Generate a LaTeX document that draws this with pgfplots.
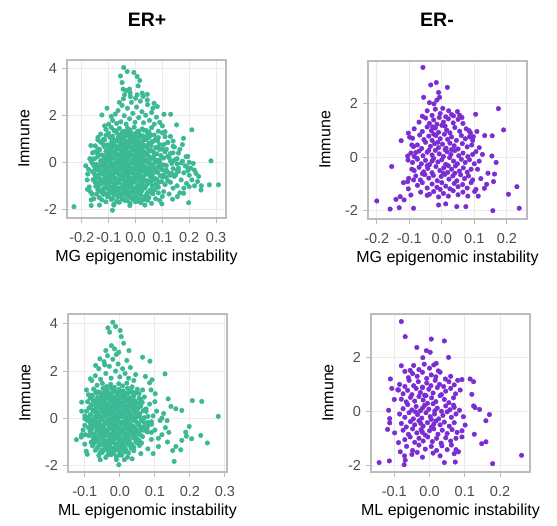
\documentclass[border=0pt]{standalone}
\usepackage{fontspec}
\setmainfont{Liberation Sans}
\usepackage{pgfplots}
\pgfplotsset{compat=1.18}

\definecolor{erpos}{RGB}{59,185,148}
\definecolor{erneg}{RGB}{123,44,210}
\definecolor{frame}{RGB}{188,188,188}
\definecolor{gridc}{RGB}{235,235,235}
\definecolor{ticklab}{RGB}{77,77,77}

\pgfplotsset{
    panel/.style={
        scale only axis,
        width=159pt,
        height=158pt,
        anchor=south west,
        axis line style={draw=frame, line width=2.4pt},
        grid=major,
        major grid style={draw=gridc, line width=0.9pt},
        tick align=outside,
        xtick pos=bottom,
        ytick pos=left,
        major tick length=5pt,
        tick style={draw=frame, line width=1pt},
        tick label style={font=\fontsize{14.5}{16}\selectfont, text=ticklab},
        /pgf/number format/assume math mode=true,
        xticklabel style={yshift=-6pt, /pgf/number format/.cd, fixed, fixed zerofill, precision=1},
        yticklabel style={xshift=-1.5pt, /pgf/number format/.cd, fixed, precision=0},
        ytick={-2,0,2,4},
        ylabel={Immune},
        ylabel style={at={(axis description cs:-0.237,0.5)}, anchor=base, font=\fontsize{16}{18}\selectfont},
        xlabel style={at={(axis description cs:0.5,-0.278)}, anchor=base, font=\fontsize{16}{18}\selectfont},
    },
    dots/.style={only marks, mark=*, mark size=2.3pt, color=#1},
}

\begin{document}
\begin{tikzpicture}[x=1pt,y=1pt]
\useasboundingbox (0,0) rectangle (557,525);

\node[font=\bfseries\fontsize{19.5}{22}\selectfont] at (147,505) {ER+};
\node[font=\bfseries\fontsize{19.5}{22}\selectfont] at (437,505) {ER-};

% ---------- ER+ : MG ----------
\begin{axis}[panel, at={(67pt,307pt)},
    xmin=-0.255, xmax=0.337, ymin=-2.37, ymax=4.35,
    xtick={-0.2,-0.1,0,0.1,0.2,0.3},
    xlabel={MG epigenomic instability}]
\addplot[dots=erpos] coordinates {
(-0.11,1.4) (-0.09,1.48) (-0.075,1.34) (-0.06,1.44) (-0.045,1.31) (-0.03,1.46) (-0.02,1.37) (-0.005,1.49) (0.01,1.33) (0.025,1.42) (0.04,1.35) (0.06,1.47) (0.085,1.32)
(-0.1,1.24) (-0.085,1.11) (-0.07,1.26) (-0.055,1.17) (-0.04,1.29) (-0.028,1.13) (-0.015,1.22) (0,1.15) (0.012,1.27) (0.027,1.12) (0.045,1.23) (0.07,1.16) (0.1,1.25)
(-0.12,0.97) (-0.095,1.06) (-0.08,0.93) (-0.065,1.04) (-0.052,0.95) (-0.04,1.08) (-0.025,0.91) (-0.012,1.02) (0.002,0.96) (0.015,1.07) (0.03,0.94) (0.05,1.05) (0.075,0.98) (0.11,1.09)
(-0.13,0.86) (-0.105,0.74) (-0.09,0.83) (-0.075,0.71) (-0.06,0.88) (-0.048,0.77) (-0.035,0.82) (-0.022,0.73) (-0.01,0.87) (0.005,0.76) (0.018,0.84) (0.033,0.72) (0.05,0.8) (0.065,0.89) (0.09,0.75) (0.12,0.83)
(-0.14,0.57) (-0.115,0.65) (-0.1,0.52) (-0.085,0.63) (-0.07,0.55) (-0.057,0.69) (-0.044,0.54) (-0.03,0.61) (-0.017,0.66) (-0.004,0.53) (0.01,0.64) (0.024,0.58) (0.04,0.67) (0.055,0.51) (0.075,0.62) (0.1,0.56) (0.14,0.68)
(-0.15,0.44) (-0.125,0.31) (-0.11,0.46) (-0.095,0.37) (-0.08,0.42) (-0.066,0.33) (-0.053,0.48) (-0.04,0.35) (-0.027,0.41) (-0.013,0.32) (0,0.47) (0.014,0.38) (0.028,0.43) (0.045,0.34) (0.06,0.49) (0.08,0.36) (0.11,0.45) (0.16,0.39)
(-0.16,0.14) (-0.14,0.25) (-0.12,0.11) (-0.105,0.22) (-0.09,0.17) (-0.076,0.28) (-0.062,0.13) (-0.049,0.21) (-0.036,0.15) (-0.022,0.27) (-0.008,0.12) (0.006,0.24) (0.02,0.18) (0.035,0.29) (0.05,0.16) (0.068,0.2) (0.09,0.1) (0.12,0.26) (0.15,0.13)
(-0.165,0.04) (-0.145,-0.09) (-0.128,0.06) (-0.113,-0.03) (-0.098,0.09) (-0.084,-0.07) (-0.07,0.02) (-0.056,-0.05) (-0.043,0.07) (-0.03,-0.08) (-0.016,0.03) (-0.002,-0.04) (0.012,0.05) (0.026,-0.02) (0.04,0.08) (0.056,-0.06) (0.073,0.01) (0.095,-0.09) (0.13,0.06) (0.17,-0.03)
(-0.155,-0.14) (-0.138,-0.25) (-0.122,-0.16) (-0.107,-0.29) (-0.093,-0.13) (-0.079,-0.22) (-0.065,-0.27) (-0.051,-0.12) (-0.038,-0.24) (-0.024,-0.17) (-0.01,-0.28) (0.004,-0.11) (0.018,-0.23) (0.032,-0.19) (0.047,-0.26) (0.063,-0.15) (0.082,-0.21) (0.105,-0.12) (0.14,-0.27) (0.19,-0.18)
(-0.16,-0.4) (-0.143,-0.32) (-0.127,-0.46) (-0.112,-0.36) (-0.097,-0.49) (-0.083,-0.34) (-0.069,-0.43) (-0.055,-0.31) (-0.041,-0.47) (-0.027,-0.38) (-0.013,-0.45) (0.001,-0.33) (0.015,-0.48) (0.029,-0.37) (0.044,-0.44) (0.06,-0.35) (0.078,-0.42) (0.1,-0.32) (0.125,-0.46) (0.16,-0.39)
(-0.15,-0.56) (-0.133,-0.69) (-0.118,-0.54) (-0.103,-0.63) (-0.089,-0.55) (-0.075,-0.68) (-0.061,-0.52) (-0.047,-0.64) (-0.033,-0.58) (-0.019,-0.67) (-0.005,-0.53) (0.009,-0.62) (0.023,-0.66) (0.038,-0.51) (0.054,-0.6) (0.072,-0.69) (0.092,-0.57) (0.115,-0.64) (0.15,-0.53)
(-0.158,-0.74) (-0.14,-0.87) (-0.124,-0.77) (-0.109,-0.84) (-0.094,-0.72) (-0.08,-0.86) (-0.066,-0.79) (-0.052,-0.71) (-0.038,-0.88) (-0.024,-0.76) (-0.01,-0.83) (0.004,-0.73) (0.018,-0.89) (0.033,-0.78) (0.049,-0.82) (0.066,-0.74) (0.088,-0.85) (0.12,-0.79)
(-0.148,-1.02) (-0.13,-0.93) (-0.114,-1.07) (-0.099,-0.96) (-0.085,-1.04) (-0.071,-0.91) (-0.057,-1.08) (-0.043,-0.97) (-0.029,-1.03) (-0.015,-0.94) (-0.001,-1.09) (0.013,-0.98) (0.028,-1.05) (0.044,-0.92) (0.062,-1.01) (0.085,-1.06) (0.11,-0.95)
(-0.14,-1.17) (-0.12,-1.26) (-0.104,-1.13) (-0.089,-1.24) (-0.075,-1.19) (-0.061,-1.28) (-0.047,-1.12) (-0.033,-1.22) (-0.019,-1.27) (-0.005,-1.14) (0.01,-1.23) (0.026,-1.16) (0.045,-1.29) (0.07,-1.18)
(-0.12,-1.36) (-0.1,-1.45) (-0.083,-1.33) (-0.068,-1.42) (-0.054,-1.48) (-0.04,-1.35) (-0.026,-1.44) (-0.012,-1.31) (0.003,-1.47) (0.02,-1.38) (0.04,-1.43) (0.065,-1.34)
(-0.09,-1.58) (-0.07,-1.66) (-0.05,-1.55) (-0.03,-1.63) (-0.01,-1.57) (0.01,-1.65) (0.03,-1.59)
(-0.1,1.62) (-0.085,1.78) (-0.07,1.65) (-0.09,1.95) (-0.065,2.2) (-0.055,1.72) (-0.05,2.42) (-0.042,1.98) (-0.035,1.62) (-0.03,2.3) (-0.022,1.85) (-0.015,2.55) (-0.01,2.08) (-0.002,1.7) (0.004,2.35) (0.012,1.9) (0.018,2.6) (0.024,2.15) (0.03,1.68) (0.038,2.0) (0.045,2.45) (0.052,1.78) (0.06,2.12) (0.07,1.62) (0.078,1.92) (0.09,1.7) (-0.045,2.7) (-0.02,2.95) (0,2.72) (0.028,2.8) (-0.035,3.05) (0.01,3.25) (-0.06,2.55) (-0.075,2.05) (0.065,2.3) (0.1,1.55) (-0.115,1.55) (0.11,1.3) (0.13,1.1) (-0.13,1.2) (-0.14,0.95) (0.14,0.9)
(0.115,0.55) (0.125,0.2) (0.135,-0.05) (0.14,0.4) (0.145,-0.6) (0.155,0.15) (0.16,-0.25) (0.165,0.55) (0.17,-0.75) (0.175,0.05) (0.18,-0.45) (0.185,-0.15) (0.19,-0.9) (0.195,0.25) (0.2,-0.55) (0.205,-0.25) (0.21,-0.75) (0.215,-0.05) (0.22,-1.0) (0.13,-0.85) (0.14,-1.1) (0.125,-1.35) (0.105,-1.25) (0.115,-0.4) (0.13,-0.55) (0.155,-1.0) (0.165,-1.3) (0.175,0.75) (0.145,0.65) (0.12,0.85) (0.1,-1.45) (0.085,-1.3) (0.18,-1.1) (0.195,-0.35) (0.155,-0.35) (0.235,-0.6) (0.245,-1.0)
(-0.175,-0.3) (-0.18,-0.75) (-0.17,0.15) (-0.178,-0.5) (-0.172,-1.05) (-0.162,-1.35) (-0.155,-1.55) (-0.15,0.7) (-0.16,0.4) (-0.168,-1.25) (-0.145,-1.35) (-0.135,-1.5) (-0.185,-0.15) (-0.14,1.05) (-0.125,-1.6)
(-0.11,-1.68) (-0.08,-1.78) (-0.06,-1.7) (-0.04,-1.62) (-0.02,-1.75) (0,-1.68) (0.02,-1.72) (0.045,-1.62) (0.06,-1.75) (0.075,-1.55) (0.09,-1.62) (0.05,-1.5)
(-0.229,-1.89) (-0.179,-1.15) (-0.166,0.71) (-0.165,-1.6) (-0.165,-1.84) (-0.134,0.52) (-0.134,-1.82) (-0.125,2.01) (-0.106,2.3) (-0.086,-2.04)
(-0.056,3.67) (-0.044,4.03) (-0.031,3.86) (-0.006,3.82) (0.006,3.65) (0.016,3.48) (-0.05,3.39) (-0.046,3.11) (-0.041,2.87) (-0.022,3.11) (-0.019,2.79) (0.006,2.87) (0.025,2.94) (0.044,2.89) (0.044,2.65) (0.069,2.51) (0.081,2.37) (0.106,2.04) (0.131,2.04) (0.153,1.59) (0.179,1.02) (0.21,1.38)
(0.188,0.24) (0.2,0) (0.219,-0.33) (0.225,-0.47) (0.281,0.06) (0.309,-0.96) (0.275,-0.96) (0.244,-1.18) (0.231,-0.82) (0.2,-1.04) (0.198,-1.72) (0.179,-1.32) (0.156,-1.46) (0.138,-1.57) (0.098,-1.77) (0.035,-1.82) (-0.021,-1.84) (-0.081,-1.82)
};
% denser core
\addplot[dots=erpos] coordinates {
(-0.08,1.35) (-0.05,1.26) (-0.025,1.32) (0,1.24) (0.03,1.37) (0.05,1.29)
(-0.11,1.15) (-0.09,1.06) (-0.062,1.12) (-0.047,1.04) (-0.033,1.17) (-0.02,1.09) (-0.006,1.14) (0.007,1.03) (0.02,1.13) (0.037,1.07) (0.058,1.16) (0.085,1.05)
(-0.115,0.95) (-0.088,0.86) (-0.072,0.92) (-0.058,0.84) (-0.045,0.97) (-0.032,0.89) (-0.018,0.94) (-0.005,0.83) (0.009,0.93) (0.022,0.87) (0.04,0.96) (0.06,0.85) (0.082,0.91)
(-0.12,0.75) (-0.097,0.66) (-0.082,0.72) (-0.067,0.64) (-0.053,0.77) (-0.04,0.69) (-0.027,0.74) (-0.013,0.63) (0,0.73) (0.013,0.67) (0.026,0.76) (0.042,0.65) (0.058,0.71) (0.08,0.62) (0.105,0.75)
(-0.135,0.55) (-0.107,0.46) (-0.092,0.52) (-0.077,0.44) (-0.063,0.57) (-0.05,0.49) (-0.037,0.54) (-0.023,0.43) (-0.01,0.53) (0.004,0.47) (0.018,0.56) (0.033,0.45) (0.05,0.51) (0.068,0.42) (0.09,0.55)
(-0.14,0.35) (-0.117,0.26) (-0.102,0.32) (-0.088,0.24) (-0.073,0.37) (-0.06,0.29) (-0.046,0.34) (-0.033,0.23) (-0.02,0.33) (-0.006,0.27) (0.008,0.36) (0.022,0.25) (0.037,0.31) (0.053,0.22) (0.07,0.35) (0.095,0.28) (0.13,0.38)
(-0.152,0.15) (-0.13,0.06) (-0.112,0.12) (-0.097,0.04) (-0.083,0.17) (-0.069,0.09) (-0.055,0.14) (-0.042,0.03) (-0.029,0.13) (-0.015,0.07) (-0.001,0.16) (0.013,0.05) (0.028,0.11) (0.043,0.02) (0.06,0.15) (0.08,0.08) (0.105,0.18) (0.14,0.06)
(-0.16,-0.05) (-0.135,-0.14) (-0.12,-0.08) (-0.105,-0.16) (-0.091,-0.03) (-0.077,-0.11) (-0.063,-0.06) (-0.049,-0.17) (-0.036,-0.07) (-0.023,-0.13) (-0.009,-0.04) (0.005,-0.15) (0.019,-0.09) (0.033,-0.18) (0.048,-0.05) (0.065,-0.12) (0.085,-0.02) (0.115,-0.14) (0.155,-0.07)
(-0.15,-0.25) (-0.135,-0.34) (-0.119,-0.28) (-0.104,-0.36) (-0.09,-0.23) (-0.076,-0.31) (-0.062,-0.26) (-0.048,-0.37) (-0.034,-0.27) (-0.02,-0.33) (-0.006,-0.24) (0.008,-0.35) (0.022,-0.29) (0.037,-0.38) (0.052,-0.25) (0.07,-0.32) (0.09,-0.22) (0.115,-0.34)
(-0.155,-0.45) (-0.14,-0.54) (-0.125,-0.48) (-0.11,-0.56) (-0.096,-0.43) (-0.082,-0.51) (-0.068,-0.46) (-0.054,-0.57) (-0.04,-0.47) (-0.026,-0.53) (-0.012,-0.44) (0.002,-0.55) (0.016,-0.49) (0.031,-0.58) (0.046,-0.45) (0.063,-0.52) (0.083,-0.42) (0.105,-0.54) (0.135,-0.47)
(-0.145,-0.65) (-0.128,-0.74) (-0.113,-0.68) (-0.099,-0.76) (-0.085,-0.63) (-0.071,-0.71) (-0.057,-0.66) (-0.043,-0.77) (-0.029,-0.67) (-0.015,-0.73) (-0.001,-0.64) (0.013,-0.75) (0.027,-0.69) (0.043,-0.78) (0.06,-0.65) (0.08,-0.72) (0.1,-0.62)
(-0.15,-0.85) (-0.134,-0.94) (-0.118,-0.88) (-0.103,-0.96) (-0.089,-0.83) (-0.075,-0.91) (-0.061,-0.86) (-0.047,-0.97) (-0.033,-0.87) (-0.019,-0.93) (-0.005,-0.84) (0.009,-0.95) (0.024,-0.89) (0.04,-0.98) (0.057,-0.85) (0.075,-0.92) (0.098,-0.82)
(-0.14,-1.05) (-0.122,-1.14) (-0.106,-1.08) (-0.092,-1.16) (-0.078,-1.03) (-0.064,-1.11) (-0.05,-1.06) (-0.036,-1.17) (-0.022,-1.07) (-0.008,-1.13) (0.006,-1.04) (0.02,-1.15) (0.036,-1.09) (0.055,-1.18) (0.08,-1.05)
(-0.13,-1.25) (-0.11,-1.34) (-0.095,-1.28) (-0.08,-1.36) (-0.066,-1.23) (-0.052,-1.31) (-0.038,-1.26) (-0.024,-1.37) (-0.01,-1.27) (0.005,-1.33) (0.022,-1.24) (0.042,-1.35) (0.06,-1.29)
(-0.105,-1.45) (-0.085,-1.54) (-0.065,-1.48) (-0.045,-1.56) (-0.03,-1.43) (-0.015,-1.51) (0,-1.46) (0.018,-1.57) (0.035,-1.47)
};
\end{axis}

% ---------- ER- : MG ----------
\begin{axis}[panel, at={(368pt,306pt)},
    xmin=-0.227, xmax=0.262, ymin=-2.30, ymax=3.57,
    xtick={-0.2,-0.1,0,0.1,0.2},
    xlabel={MG epigenomic instability}]
\addplot[dots=erneg] coordinates {
(-0.045,1.72) (-0.03,1.55) (-0.02,1.78) (-0.005,1.62) (0.012,1.5) (0.03,1.58) (-0.06,1.52) (0.055,1.55)
(-0.07,1.3) (-0.05,1.45) (-0.038,1.25) (-0.025,1.38) (-0.015,1.22) (-0.008,1.47) (0.005,1.3) (0.02,1.42) (0.035,1.27) (0.05,1.4) (0.065,1.25) (-0.028,1.12) (0.01,1.15)
(-0.085,1.05) (-0.06,0.95) (-0.045,1.12) (-0.032,0.98) (-0.02,1.08) (-0.01,0.92) (0,1.18) (0.015,1.0) (0.025,0.9) (0.04,1.1) (0.055,0.96) (0.075,1.05) (0.088,0.9) (-0.025,0.85)
(-0.09,0.7) (-0.068,0.82) (-0.055,0.65) (-0.04,0.78) (-0.03,0.62) (-0.018,0.8) (-0.005,0.68) (0.008,0.85) (0.018,0.66) (0.03,0.75) (0.045,0.62) (0.06,0.8) (0.072,0.68) (0.085,0.75) (0.095,0.62) (-0.012,0.55)
(-0.075,0.45) (-0.062,0.32) (-0.05,0.55) (-0.035,0.4) (-0.022,0.5) (-0.01,0.35) (0.002,0.48) (0.013,0.33) (0.025,0.52) (0.038,0.42) (0.05,0.3) (0.063,0.5) (0.078,0.38) (0.092,0.45) (0.03,0.28) (-0.04,0.25)
(-0.095,0.15) (-0.07,0.22) (-0.058,0.05) (-0.045,0.18) (-0.03,0.08) (-0.02,0.25) (-0.008,0.12) (0.005,0.02) (0.016,0.2) (0.028,0.1) (0.04,0.24) (0.052,0.05) (0.065,0.15) (0.08,0.02) (0.095,0.1) (0.105,0.2) (-0.085,0.02) (0.01,0.28)
(-0.09,-0.2) (-0.075,-0.08) (-0.063,-0.25) (-0.05,-0.12) (-0.038,-0.28) (-0.025,-0.05) (-0.012,-0.18) (0,-0.1) (0.012,-0.27) (0.024,-0.02) (0.036,-0.15) (0.048,-0.25) (0.06,-0.08) (0.072,-0.2) (0.085,-0.1) (0.1,-0.25) (0.115,-0.15) (-0.03,-0.15)
(-0.085,-0.5) (-0.07,-0.38) (-0.056,-0.55) (-0.043,-0.42) (-0.03,-0.58) (-0.018,-0.35) (-0.006,-0.5) (0.006,-0.4) (0.018,-0.57) (0.03,-0.45) (0.042,-0.33) (0.054,-0.52) (0.066,-0.4) (0.078,-0.56) (0.09,-0.45) (0.02,-0.32) (-0.045,-0.32) (0.005,-0.6)
(-0.08,-0.7) (-0.066,-0.85) (-0.052,-0.65) (-0.04,-0.78) (-0.026,-0.68) (-0.014,-0.88) (-0.002,-0.72) (0.01,-0.64) (0.022,-0.82) (0.034,-0.7) (0.046,-0.88) (0.058,-0.66) (0.07,-0.8) (0.082,-0.7) (0.095,-0.85) (0.04,-0.6) (-0.06,-0.62)
(-0.075,-1.05) (-0.06,-0.95) (-0.045,-1.15) (-0.03,-1.0) (-0.015,-1.12) (0,-0.95) (0.012,-1.08) (0.025,-1.18) (0.038,-0.98) (0.05,-1.1) (0.064,-1.02) (0.078,-1.15) (0.09,-0.95) (-0.005,-1.2)
(-0.065,-1.3) (-0.045,-1.42) (-0.025,-1.28) (-0.01,-1.48) (0.005,-1.35) (0.02,-1.45) (0.035,-1.25) (0.05,-1.4) (0.065,-1.3) (0.08,-1.45)
(-0.058,3.33) (-0.017,2.77) (-0.034,2.68) (0.017,2.59) (-0.056,2.22) (-0.01,2.4) (-0.007,2.22) (-0.015,2.12) (-0.024,1.98) (-0.038,2.02) (0.003,1.81) (0.021,1.72) (0.048,1.69) (0.036,1.53) (0.062,1.47) (0.104,1.59) (0.174,1.8) (0.19,1.01) (0.132,0.8) (0.155,0.79) (0.097,0.76) (0.084,0.98)
(0.154,0.04) (0.167,-0.2) (0.142,-0.6) (0.162,-0.63) (0.159,-0.91) (0.138,-1.01) (0.131,-1.16) (0.105,-1.2) (0.101,-1.28) (0.205,-1.38) (0.231,-1.1) (0.238,-1.9) (0.157,-1.99) (0.074,-1.84) (0.046,-1.84) (0.012,-1.74) (-0.01,-1.78) (-0.038,-1.38)
(-0.2,-1.63) (-0.159,-1.93) (-0.154,-0.35) (-0.131,-1.88) (-0.128,-1.47) (-0.116,-1.59) (-0.141,-1.57) (-0.087,-1.9) (-0.125,0.61) (-0.118,-0.95) (-0.103,0.89) (-0.099,0.74) (-0.092,0.45) (-0.087,0.39) (-0.105,0.04) (-0.104,-0.11) (-0.102,-0.79) (-0.105,-0.91) (-0.103,-1.18) (-0.095,-1.41) (-0.087,-0.85) (-0.08,0.17) (-0.077,-0.04) (-0.092,-0.45)
(0.115,0.35) (0.11,-0.45) (0.12,-0.8) (0.125,0.1) (0.108,0.95) (0.112,-1.45)
};
\end{axis}

% ---------- ER+ : ML ----------
\begin{axis}[panel, at={(68pt,53pt)},
    xmin=-0.148, xmax=0.306, ymin=-2.28, ymax=4.42,
    xtick={-0.1,0,0.1,0.2,0.3},
    xlabel={ML epigenomic instability}]
\addplot[dots=erpos] coordinates {
(-0.065,1.4) (-0.05,1.48) (-0.038,1.34) (-0.026,1.44) (-0.015,1.31) (-0.003,1.46) (0.008,1.37) (0.02,1.49) (0.035,1.33)
(-0.075,1.24) (-0.06,1.11) (-0.048,1.26) (-0.036,1.17) (-0.025,1.29) (-0.014,1.13) (-0.002,1.22) (0.01,1.15) (0.022,1.27) (0.036,1.12) (0.05,1.23)
(-0.08,0.97) (-0.066,1.06) (-0.054,0.93) (-0.043,1.04) (-0.032,0.95) (-0.021,1.08) (-0.01,0.91) (0.001,1.02) (0.012,0.96) (0.024,1.07) (0.038,0.94) (0.055,1.05)
(-0.085,0.86) (-0.07,0.74) (-0.058,0.83) (-0.047,0.71) (-0.036,0.88) (-0.025,0.77) (-0.014,0.82) (-0.003,0.73) (0.008,0.87) (0.019,0.76) (0.031,0.84) (0.044,0.72) (0.06,0.8)
(-0.082,0.57) (-0.068,0.65) (-0.056,0.52) (-0.045,0.63) (-0.034,0.55) (-0.023,0.69) (-0.012,0.54) (-0.001,0.61) (0.01,0.66) (0.021,0.53) (0.033,0.64) (0.046,0.58) (0.064,0.67)
(-0.088,0.44) (-0.074,0.31) (-0.062,0.46) (-0.05,0.37) (-0.039,0.42) (-0.028,0.33) (-0.017,0.48) (-0.006,0.35) (0.005,0.41) (0.016,0.32) (0.027,0.47) (0.039,0.38) (0.052,0.43) (0.07,0.34)
(-0.084,0.14) (-0.07,0.25) (-0.058,0.11) (-0.046,0.22) (-0.035,0.17) (-0.024,0.28) (-0.013,0.13) (-0.002,0.21) (0.009,0.15) (0.02,0.27) (0.031,0.12) (0.043,0.24) (0.057,0.18) (0.075,0.29)
(-0.09,0.04) (-0.076,-0.09) (-0.064,0.06) (-0.052,-0.03) (-0.041,0.09) (-0.03,-0.07) (-0.019,0.02) (-0.008,-0.05) (0.003,0.07) (0.014,-0.08) (0.025,0.03) (0.036,-0.04) (0.048,0.05) (0.062,-0.02) (0.08,0.08)
(-0.086,-0.14) (-0.072,-0.25) (-0.06,-0.16) (-0.048,-0.29) (-0.037,-0.13) (-0.026,-0.22) (-0.015,-0.27) (-0.004,-0.12) (0.007,-0.24) (0.018,-0.17) (0.029,-0.28) (0.041,-0.11) (0.054,-0.23) (0.07,-0.19) (0.09,-0.26)
(-0.09,-0.4) (-0.077,-0.32) (-0.065,-0.46) (-0.053,-0.36) (-0.042,-0.49) (-0.031,-0.34) (-0.02,-0.43) (-0.009,-0.31) (0.002,-0.47) (0.013,-0.38) (0.024,-0.45) (0.035,-0.33) (0.047,-0.48) (0.06,-0.37) (0.078,-0.44)
(-0.085,-0.56) (-0.072,-0.69) (-0.06,-0.54) (-0.048,-0.63) (-0.037,-0.55) (-0.026,-0.68) (-0.015,-0.52) (-0.004,-0.64) (0.007,-0.58) (0.018,-0.67) (0.029,-0.53) (0.04,-0.62) (0.053,-0.66) (0.068,-0.51) (0.09,-0.6)
(-0.088,-0.74) (-0.075,-0.87) (-0.063,-0.77) (-0.051,-0.84) (-0.04,-0.72) (-0.029,-0.86) (-0.018,-0.79) (-0.007,-0.71) (0.004,-0.88) (0.015,-0.76) (0.026,-0.83) (0.038,-0.73) (0.05,-0.89) (0.065,-0.78)
(-0.082,-1.02) (-0.069,-0.93) (-0.057,-1.07) (-0.045,-0.96) (-0.034,-1.04) (-0.023,-0.91) (-0.012,-1.08) (-0.001,-0.97) (0.01,-1.03) (0.021,-0.94) (0.033,-1.09) (0.046,-0.98) (0.062,-1.05)
(-0.078,-1.17) (-0.064,-1.26) (-0.052,-1.13) (-0.04,-1.24) (-0.029,-1.19) (-0.018,-1.28) (-0.007,-1.12) (0.004,-1.22) (0.015,-1.27) (0.027,-1.14) (0.04,-1.23) (0.056,-1.16)
(-0.07,-1.36) (-0.056,-1.45) (-0.044,-1.33) (-0.032,-1.42) (-0.021,-1.48) (-0.01,-1.35) (0.001,-1.44) (0.012,-1.31) (0.025,-1.47) (0.04,-1.38)
(-0.06,-1.58) (-0.04,-1.66) (-0.025,-1.55) (-0.01,-1.63) (0.005,-1.57) (0.022,-1.65)
(-0.07,1.8) (-0.06,2.1) (-0.055,1.65) (-0.045,2.4) (-0.04,1.9) (-0.03,2.2) (-0.025,1.7) (-0.02,2.5) (-0.012,2.0) (-0.005,2.3) (0,1.75) (0.008,2.1) (0.015,1.9) (0.025,1.7) (0.03,2.15) (0.04,1.6) (0.045,1.85) (-0.08,1.6) (-0.035,2.65) (-0.01,2.7) (0.02,2.45)
(0.07,0.9) (0.075,0.4) (0.08,-0.3) (0.085,0.6) (0.09,-0.9) (0.095,0.1) (0.1,-0.5) (0.105,0.3) (0.11,-1.2) (0.115,-0.1) (0.12,-0.7) (0.125,0.2) (0.13,-0.4) (0.065,1.2) (0.08,-1.3) (0.095,-1.5) (0.1,0.7) (0.11,-0.85) (0.12,0.0) (0.14,-0.6) (0.135,-0.1) (0.06,-1.5) (0.085,1.5) (0.09,-0.15)
(-0.1,-0.3) (-0.098,-0.7) (-0.095,0.3) (-0.1,-1.1) (-0.096,-1.4) (-0.092,0.7) (-0.09,1.0) (-0.1,0.1) (-0.105,-0.5) (-0.11,-0.8) (-0.095,1.2)
(-0.02,4.07) (-0.012,3.89) (-0.034,3.83) (-0.029,3.65) (0.001,3.72) (0.004,3.46) (0.011,3.18) (-0.024,3.08) (-0.015,2.94) (-0.04,2.87) (-0.003,2.8) (0.026,2.87) (0.065,2.59) (0.086,2.42) (0.129,1.88) (0.073,1.77) (0.092,1.63) (0.089,1.2) (0.101,1.04)
(0.138,0.82) (0.146,0.5) (0.16,0.4) (0.177,0.33) (0.207,0.75) (0.234,0.71) (0.281,0.08) (0.198,-0.35) (0.188,-0.59) (0.19,-0.76) (0.177,-0.94) (0.205,-0.87) (0.231,-0.73) (0.25,-1.05) (0.16,-1.2) (0.151,-1.37) (0.174,-1.34) (0.155,-1.83) (0.136,-1.01)
(-0.124,-0.91) (-0.109,0.68) (-0.109,0.3) (-0.109,-0.7) (-0.093,-1.53) (-0.056,-1.76) (-0.01,-1.76) (-0.003,-1.97) (0.013,-1.76) (0.035,-1.72) (-0.084,1.67) (-0.069,2.24) (-0.057,2.52) (-0.043,2.26) (-0.093,-0.09) (-0.1,-0.02)
};
% denser core
\addplot[dots=erpos] coordinates {
(-0.07,1.15) (-0.054,1.06) (-0.042,1.12) (-0.03,1.04) (-0.019,1.17) (-0.008,1.09) (0.004,1.14) (0.016,1.03) (0.03,1.13) (0.045,1.07)
(-0.078,0.95) (-0.064,0.86) (-0.052,0.92) (-0.041,0.84) (-0.03,0.97) (-0.019,0.89) (-0.008,0.94) (0.003,0.83) (0.014,0.93) (0.026,0.87) (0.04,0.96) (0.055,0.85)
(-0.076,0.75) (-0.062,0.66) (-0.05,0.72) (-0.04,0.64) (-0.029,0.77) (-0.018,0.69) (-0.007,0.74) (0.004,0.63) (0.015,0.73) (0.027,0.67) (0.04,0.76) (0.055,0.65)
(-0.08,0.55) (-0.068,0.46) (-0.056,0.52) (-0.044,0.44) (-0.033,0.57) (-0.022,0.49) (-0.011,0.54) (0,0.43) (0.011,0.53) (0.022,0.47) (0.033,0.56) (0.045,0.45) (0.06,0.51)
(-0.078,0.35) (-0.064,0.26) (-0.052,0.32) (-0.041,0.24) (-0.03,0.37) (-0.019,0.29) (-0.008,0.34) (0.003,0.23) (0.014,0.33) (0.025,0.27) (0.037,0.36) (0.05,0.25) (0.066,0.31)
(-0.083,0.15) (-0.07,0.06) (-0.058,0.12) (-0.046,0.04) (-0.035,0.17) (-0.024,0.09) (-0.013,0.14) (-0.002,0.03) (0.009,0.13) (0.02,0.07) (0.031,0.16) (0.042,0.05) (0.055,0.11) (0.07,0.02)
(-0.08,-0.05) (-0.066,-0.14) (-0.054,-0.08) (-0.042,-0.16) (-0.031,-0.03) (-0.02,-0.11) (-0.009,-0.06) (0.002,-0.17) (0.013,-0.07) (0.024,-0.13) (0.035,-0.04) (0.047,-0.15) (0.062,-0.09) (0.08,-0.18)
(-0.083,-0.25) (-0.07,-0.34) (-0.058,-0.28) (-0.047,-0.36) (-0.036,-0.23) (-0.025,-0.31) (-0.014,-0.26) (-0.003,-0.37) (0.008,-0.27) (0.019,-0.33) (0.03,-0.24) (0.041,-0.35) (0.054,-0.29) (0.068,-0.38)
(-0.08,-0.45) (-0.066,-0.54) (-0.054,-0.48) (-0.042,-0.56) (-0.031,-0.43) (-0.02,-0.51) (-0.009,-0.46) (0.002,-0.57) (0.013,-0.47) (0.024,-0.53) (0.035,-0.44) (0.047,-0.55) (0.06,-0.49) (0.078,-0.58)
(-0.08,-0.65) (-0.068,-0.74) (-0.056,-0.68) (-0.044,-0.76) (-0.033,-0.63) (-0.022,-0.71) (-0.011,-0.66) (0,-0.77) (0.011,-0.67) (0.022,-0.73) (0.033,-0.64) (0.045,-0.75) (0.058,-0.69)
(-0.076,-0.85) (-0.063,-0.94) (-0.051,-0.88) (-0.04,-0.96) (-0.029,-0.83) (-0.018,-0.91) (-0.007,-0.86) (0.004,-0.97) (0.015,-0.87) (0.027,-0.93) (0.04,-0.84) (0.055,-0.95)
(-0.072,-1.05) (-0.058,-1.14) (-0.046,-1.08) (-0.034,-1.16) (-0.023,-1.03) (-0.012,-1.11) (-0.001,-1.06) (0.01,-1.17) (0.021,-1.07) (0.034,-1.13) (0.048,-1.04)
(-0.064,-1.25) (-0.05,-1.34) (-0.038,-1.28) (-0.026,-1.36) (-0.015,-1.23) (-0.004,-1.31) (0.007,-1.26) (0.018,-1.37) (0.032,-1.27)
(-0.05,-1.45) (-0.034,-1.54) (-0.018,-1.48) (-0.002,-1.56) (0.014,-1.43)
};
\end{axis}

% ---------- ER- : ML ----------
\begin{axis}[panel, at={(371pt,53pt)},
    xmin=-0.166, xmax=0.285, ymin=-2.25, ymax=3.61,
    xtick={-0.1,0,0.1,0.2},
    xlabel={ML epigenomic instability}]
\addplot[dots=erneg] coordinates {
(-0.045,1.7) (-0.03,1.55) (-0.015,1.75) (0,1.6) (0.012,1.72) (-0.055,1.52) (0.025,1.5)
(-0.06,1.25) (-0.048,1.4) (-0.035,1.3) (-0.02,1.45) (-0.008,1.22) (0.005,1.35) (0.018,1.28) (0.03,1.45) (0.045,1.2) (0.06,1.3) (-0.07,1.48)
(-0.085,1.0) (-0.07,0.92) (-0.058,1.15) (-0.045,0.95) (-0.032,1.1) (-0.02,0.9) (-0.008,1.05) (0.004,0.95) (0.016,1.15) (0.028,1.0) (0.04,0.92) (0.055,1.1) (0.07,0.98) (0.08,1.15)
(-0.09,0.8) (-0.075,0.65) (-0.062,0.78) (-0.05,0.62) (-0.038,0.85) (-0.026,0.7) (-0.014,0.6) (-0.002,0.82) (0.01,0.68) (0.022,0.88) (0.034,0.62) (0.046,0.75) (0.06,0.85) (0.074,0.65) (-0.02,0.88)
(-0.08,0.45) (-0.066,0.35) (-0.054,0.52) (-0.042,0.38) (-0.03,0.55) (-0.018,0.42) (-0.006,0.3) (0.006,0.5) (0.018,0.36) (0.03,0.58) (0.042,0.44) (0.055,0.32) (0.068,0.5) (-0.01,0.58)
(-0.075,0.1) (-0.062,0.25) (-0.05,0.05) (-0.038,0.18) (-0.026,0.02) (-0.014,0.22) (-0.002,0.08) (0.01,0.28) (0.022,0.12) (0.034,0) (0.046,0.2) (0.058,0.06) (0.07,0.15) (0.085,0.04) (-0.02,0.12) (0.015,0.02)
(-0.085,-0.1) (-0.07,-0.22) (-0.058,-0.05) (-0.046,-0.28) (-0.034,-0.12) (-0.022,-0.25) (-0.01,-0.05) (0.002,-0.2) (0.014,-0.1) (0.026,-0.28) (0.038,-0.15) (0.05,-0.02) (0.062,-0.22) (0.075,-0.1) (-0.04,-0.02) (0.005,-0.3)
(-0.08,-0.45) (-0.066,-0.58) (-0.054,-0.38) (-0.042,-0.5) (-0.03,-0.35) (-0.018,-0.55) (-0.006,-0.42) (0.006,-0.58) (0.018,-0.36) (0.03,-0.5) (0.042,-0.4) (0.056,-0.55) (0.07,-0.42) (-0.025,-0.45) (0.012,-0.48)
(-0.075,-0.7) (-0.06,-0.85) (-0.048,-0.65) (-0.036,-0.8) (-0.024,-0.68) (-0.012,-0.88) (0,-0.72) (0.012,-0.65) (0.024,-0.85) (0.036,-0.7) (0.05,-0.82) (0.064,-0.68) (0.078,-0.78) (-0.02,-0.78)
(-0.07,-1.05) (-0.055,-0.95) (-0.042,-1.15) (-0.03,-1.0) (-0.018,-1.1) (-0.005,-0.95) (0.008,-1.12) (0.02,-1.0) (0.033,-1.18) (0.046,-0.98) (0.06,-1.1) (0.075,-1.0)
(-0.065,-1.3) (-0.048,-1.45) (-0.03,-1.25) (-0.012,-1.4) (0.005,-1.3) (0.02,-1.45) (0.035,-1.28) (0.05,-1.42) (0.062,-1.25)
(-0.05,-1.6) (-0.02,-1.7) (0.01,-1.55) (0.03,-1.65) (-0.035,-1.52)
(-0.08,3.33) (-0.069,2.77) (-0.036,2.37) (0.005,2.68) (0.042,2.61) (-0.009,2.25) (0.002,2.19) (-0.019,1.99) (0.019,1.78) (0.054,2.0) (-0.08,1.69) (-0.111,1.2) (-0.107,0.85) (-0.116,0.04) (-0.113,-0.27) (-0.113,-0.43) (-0.119,-0.67) (-0.099,-0.8) (-0.1,0.44) (-0.088,0.79)
(-0.143,-1.9) (-0.114,-1.84) (-0.072,-1.98) (-0.069,-1.81) (-0.071,-1.65) (-0.083,-1.5) (-0.088,-1.16) (0.042,-1.9) (0.073,-1.88) (0.07,-1.57) (0.075,-1.42) (0.082,-1.5) (0.092,-0.95) (0.092,-0.72) (0.101,-0.51) (0.096,-0.2) (0.068,0.23) (0.092,1.18) (0.115,1.2) (0.125,1.1)
(0.12,0.63) (0.125,0.2) (0.129,0.14) (0.142,0.07) (0.17,-0.12) (0.16,-0.35) (0.127,-0.85) (0.148,-1.2) (0.16,-1.13) (0.261,-1.63) (0.179,-1.94) (0.087,0.79)
};
\end{axis}
\end{tikzpicture}
\end{document}
